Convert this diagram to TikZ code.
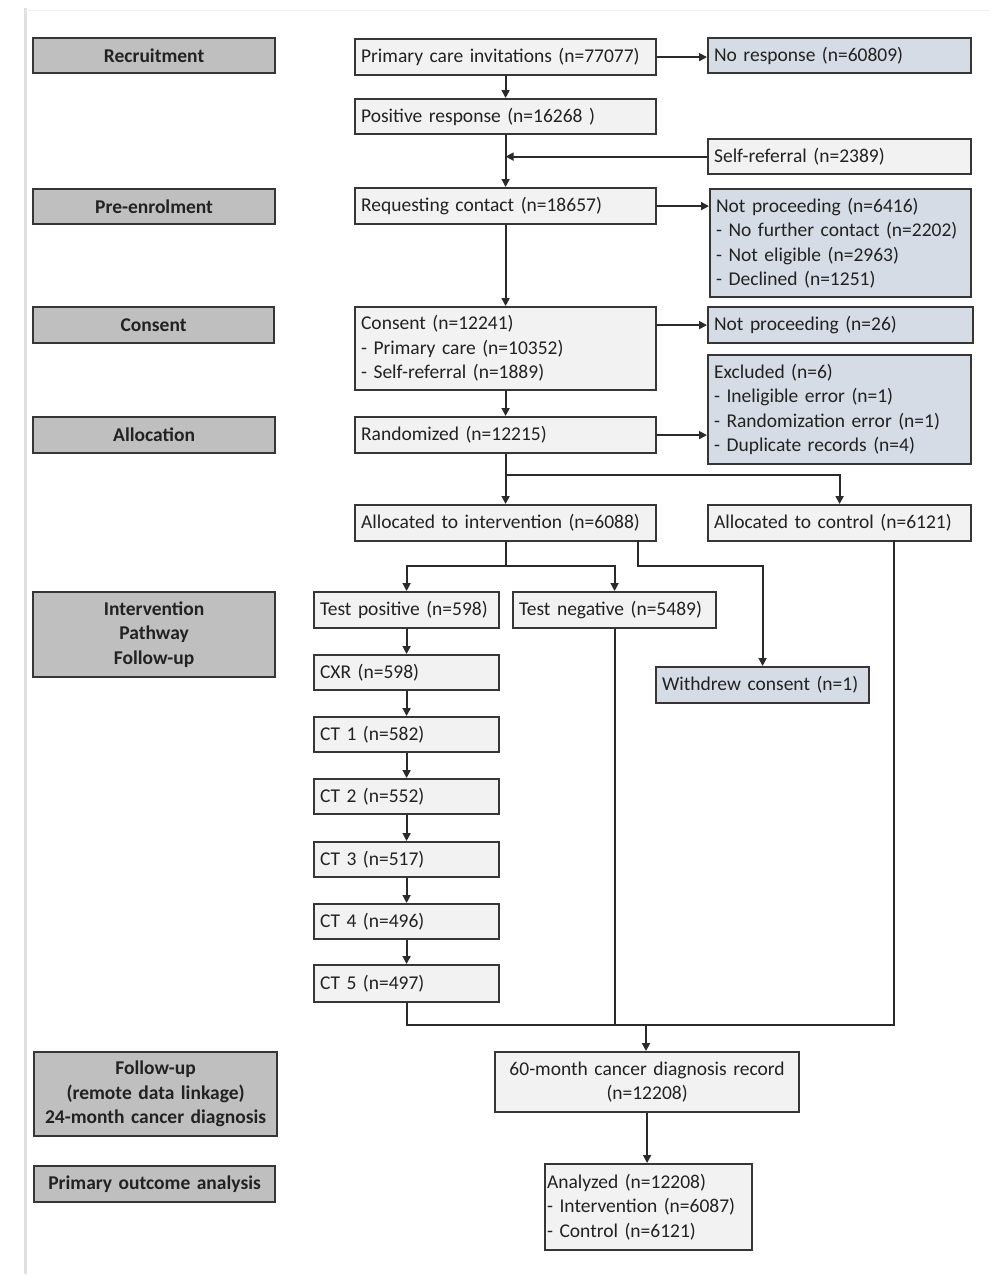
\documentclass[tikz,border=0pt]{standalone}
\usepackage{fontspec}
\setmainfont{Carlito}
\usetikzlibrary{arrows.meta}
\definecolor{stagefill}{HTML}{BFBFBF}
\definecolor{mainfill}{HTML}{F2F2F2}
\definecolor{bluefill}{HTML}{D6DCE5}
\definecolor{edgecol}{HTML}{363636}
\definecolor{txtcol}{HTML}{222222}
\definecolor{linecol}{HTML}{2A2A2A}
\newcommand\mybox[7]{%
  \pgfmathsetmacro\mytw{#5-12}%
  \node[#2, minimum width=#5pt, minimum height=#6pt, text width=\mytw pt] (#1) at (#3,#4) {#7};}
\begin{document}
\begin{tikzpicture}[x=1pt,y=-1pt,
  base/.style={draw=edgecol, line width=2.2pt, anchor=north west, inner sep=0pt,
    font=\fontsize{19.5}{24.5}\selectfont, text=txtcol},
  mainbox/.style={base, fill=mainfill, align=left},
  bluebox/.style={base, fill=bluefill, align=left},
  centbox/.style={base, fill=mainfill, align=center},
  stagebox/.style={base, fill=stagefill, align=center, font=\fontsize{19.5}{24.5}\selectfont\bfseries},
  conn/.style={draw=linecol, line width=1.8pt},
  arr/.style={conn, -{Triangle[length=8pt,width=8pt]}}
]
\useasboundingbox (0,0) rectangle (1001,1280);
\fill[white] (0,0) rectangle (1001,1280);
% page edge
\draw[line width=3pt, color=black!12] (25,8) -- (25,1274);
\draw[line width=1pt, color=black!5] (25,10) -- (990,10);

% stage boxes
\mybox{s1}{stagebox}{32}{37}{242}{35}{Recruitment}
\mybox{s2}{stagebox}{32}{188}{242}{35}{Pre-enrolment}
\mybox{s3}{stagebox}{32}{306}{241}{36}{Consent}
\mybox{s4}{stagebox}{32}{416}{242}{36}{Allocation}
\mybox{s5}{stagebox}{32}{591}{242}{85}{Intervention\\Pathway\\Follow-up}
\mybox{s6}{stagebox}{33}{1051}{243}{84}{Follow-up\\(remote data linkage)\\24-month cancer diagnosis}
\mybox{s7}{stagebox}{33}{1165}{241}{36}{Primary outcome analysis}

% main flow
\mybox{pci}{mainbox}{354}{38}{301}{36}{Primary care invitations (n=77077)}
\mybox{nor}{bluebox}{707}{37}{263}{35}{No response (n=60809)}
\mybox{pos}{mainbox}{354}{98}{301}{35}{Positive response (n=16268 )}
\mybox{sr}{mainbox}{707}{138}{263}{35}{Self-referral (n=2389)}
\mybox{req}{mainbox}{354}{187}{301}{36}{Requesting contact (n=18657)}
\mybox{np1}{bluebox}{709}{188}{261}{108}{Not proceeding (n=6416)\\- No further contact (n=2202)\\- Not eligible (n=2963)\\- Declined (n=1251)}
\mybox{cons}{mainbox}{354}{306}{301}{83}{Consent (n=12241)\\- Primary care (n=10352)\\- Self-referral (n=1889)}
\mybox{np2}{bluebox}{707}{306}{265}{36}{Not proceeding (n=26)}
\mybox{exc}{bluebox}{707}{354}{263}{109}{Excluded (n=6)\\- Ineligible error (n=1)\\- Randomization error (n=1)\\- Duplicate records (n=4)}
\mybox{rand}{mainbox}{354}{416}{301}{36}{Randomized (n=12215)}
\mybox{int}{mainbox}{354}{504}{301}{36}{Allocated to intervention (n=6088)}
\mybox{ctl}{mainbox}{707}{504}{263}{36}{Allocated to control (n=6121)}
\mybox{tp}{mainbox}{313}{591}{185}{36}{Test positive (n=598)}
\mybox{tn}{mainbox}{512}{591}{203}{36}{Test negative (n=5489)}
\mybox{wd}{bluebox}{655}{666}{213}{36}{Withdrew consent (n=1)}
\mybox{cxr}{mainbox}{313}{654}{185}{35}{CXR (n=598)}
\mybox{ct1}{mainbox}{313}{716}{185}{35}{CT 1 (n=582)}
\mybox{ct2}{mainbox}{313}{778}{185}{35}{CT 2 (n=552)}
\mybox{ct3}{mainbox}{313}{841}{185}{35}{CT 3 (n=517)}
\mybox{ct4}{mainbox}{313}{903}{185}{35}{CT 4 (n=496)}
\mybox{ct5}{mainbox}{313}{964}{185}{37}{CT 5 (n=497)}
\mybox{rec}{centbox}{494}{1051}{304}{60}{60-month cancer diagnosis record\\(n=12208)}
\node[mainbox, minimum width=207pt, minimum height=86pt, text width=203pt] (ana) at (544,1163) {Analyzed (n=12208)\\- Intervention (n=6087)\\- Control (n=6121)};

% coordinates
\coordinate (b1) at (rand.south |- 0,475);
\coordinate (b2) at (int.south |- 0,566);
\coordinate (w1) at (638,540);
\coordinate (c1) at (894,540);
\coordinate (m) at (646,1025);

% connectors
\draw[arr] (pci.east) -- (pci.east -| nor.west);
\draw[arr] (pci.south) -- (pos.north);
\draw[arr] (pos.south) -- (req.north);
\draw[arr] (sr.west) -- (pos.south |- sr.west);
\draw[arr] (req.east) -- (req.east -| np1.west);
\draw[arr] (req.south) -- (cons.north);
\draw[arr] (cons.east |- np2.west) -- (np2.west);
\draw[arr] (cons.south) -- (rand.north);
\draw[arr] (rand.east) -- (rand.east -| exc.west);
\draw[arr] (rand.south) -- (int.north);
\draw[arr] (b1) -| (ctl.north);
\draw[conn] (int.south) -- (b2);
\draw[arr] (b2) -| (tp.north);
\draw[arr] (b2) -| (tn.north);
\draw[arr] (w1) -- ++(0,26) -| (wd.north);
\draw[arr] (tp.south) -- (cxr.north);
\draw[arr] (cxr.south) -- (ct1.north);
\draw[arr] (ct1.south) -- (ct2.north);
\draw[arr] (ct2.south) -- (ct3.north);
\draw[arr] (ct3.south) -- (ct4.north);
\draw[arr] (ct4.south) -- (ct5.north);
\draw[conn] (ct5.south) |- (m);
\draw[conn] (c1) |- (m);
\draw[conn] (tn.south) -- (tn.south |- m);
\draw[arr] (m) -- (m |- rec.north);
\draw[arr] (rec.south) -- (rec.south |- ana.north);
\end{tikzpicture}
\end{document}
